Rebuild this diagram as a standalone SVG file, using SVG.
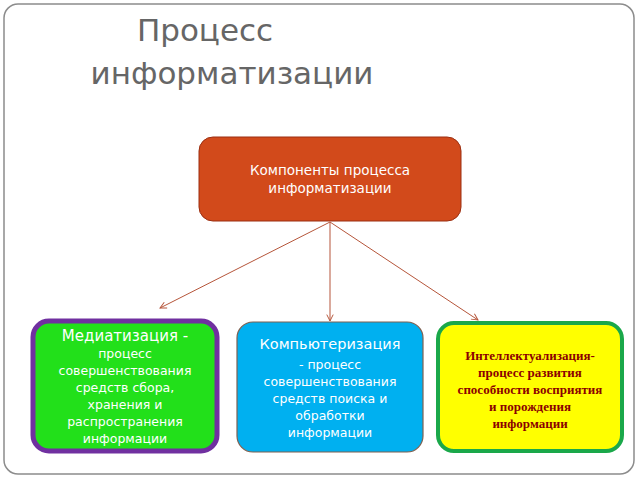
<svg xmlns="http://www.w3.org/2000/svg" width="640" height="480" viewBox="0 0 640 480">
<defs>
<style>
.w{font-family:"DejaVu Sans","Noto Sans",sans-serif;fill:#fff;text-anchor:middle}
.c{stroke:#b5553a;stroke-width:1;fill:none;marker-end:url(#a)}
.s{font-family:"Liberation Serif",serif;font-weight:bold;font-size:13px;fill:#8b0000;text-anchor:middle}
</style>
<marker id="a" viewBox="0 0 10 10" refX="9" refY="5" markerWidth="8" markerHeight="8" orient="auto"><path d="M1,1 L9,5 L1,9" fill="none" stroke="#b5553a" stroke-width="1.2"/></marker>
</defs>
<rect x="0" y="0" width="640" height="480" fill="#fff"/>
<rect x="4" y="4" width="630" height="470" rx="14" fill="#fff" stroke="#8c8c8c" stroke-width="1.5"/>
<g id="title" font-family="'DejaVu Sans','Noto Sans',sans-serif" font-size="31" fill="#666" text-anchor="middle">
<text x="205" y="41">Процесс</text>
<text x="232" y="84">информатизации</text>
</g>
<g id="connectors">
<line class="c" x1="330" y1="222" x2="160" y2="308"/>
<line class="c" x1="330" y1="222" x2="330" y2="321"/>
<line class="c" x1="330" y1="222" x2="478" y2="320"/>
</g>
<g id="root">
<rect x="199" y="137" width="262" height="84" rx="14" fill="#d24a1b" stroke="#9b2f12"/>
<text class="w" font-size="13.5" x="330" y="175">Компоненты процесса</text>
<text class="w" font-size="13.5" x="330" y="193">информатизации</text>
</g>
<g id="med">
<rect x="33" y="321" width="184" height="130" rx="16" fill="#22e01a" stroke="#7030a0" stroke-width="5"/>
<text class="w" font-size="15" x="125" y="341">Медиатизация -</text>
<g font-size="12.5"><text class="w" x="125" y="358">процесс</text>
<text class="w" x="125" y="375">совершенствования</text>
<text class="w" x="125" y="392">средств сбора,</text>
<text class="w" x="125" y="409">хранения и</text>
<text class="w" x="125" y="426">распространения</text>
<text class="w" x="125" y="443">информации</text></g>
</g>
<g id="comp">
<rect x="237" y="322" width="186" height="130" rx="16" fill="#00b0f0" stroke="#7f6050" stroke-width="1.2"/>
<text class="w" font-size="14.5" x="330" y="349">Компьютеризация</text>
<g font-size="12.5"><text class="w" x="330" y="369">- процесс</text>
<text class="w" x="330" y="386">совершенствования</text>
<text class="w" x="330" y="403">средств поиска и</text>
<text class="w" x="330" y="420">обработки</text>
<text class="w" x="330" y="437">информации</text></g>
</g>
<g id="intel">
<rect x="438" y="323" width="184" height="128" rx="16" fill="#ffff00" stroke="#1aa84a" stroke-width="4"/>
<text class="s" font-size="15" x="530" y="360">Интеллектуализация-</text>
<text class="s" x="530" y="377">процесс развития</text>
<text class="s" x="530" y="394">способности восприятия</text>
<text class="s" x="530" y="411">и порождения</text>
<text class="s" x="530" y="428">информации</text>
</g>
</svg>
